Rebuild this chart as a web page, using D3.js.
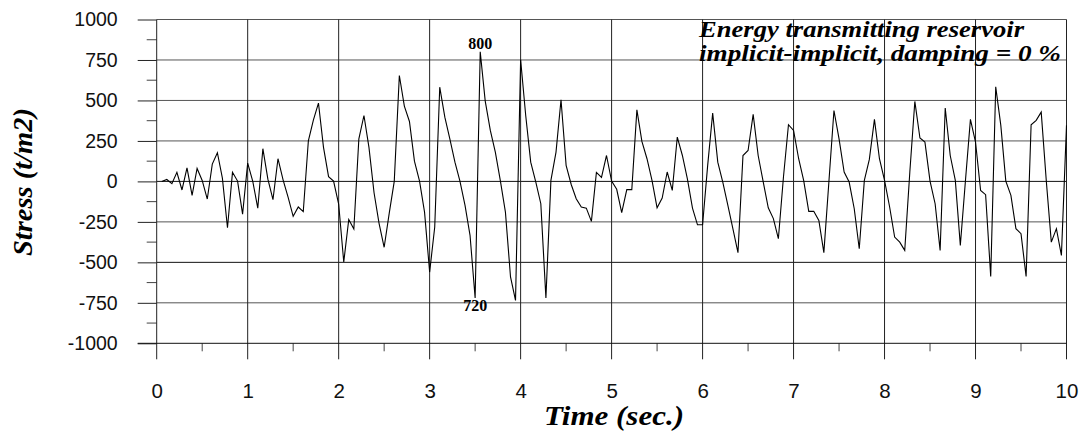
<!DOCTYPE html>
<html>
<head>
<meta charset="utf-8">
<script src="https://cdn.jsdelivr.net/npm/d3@7"></script>
<style>
html,body{margin:0;padding:0;background:#fff;}
svg{display:block;}
</style>
</head>
<body>
<svg id="chart" width="1089" height="435"></svg>
<script>
// ---- data ----
const times = [
0.056,0.111,0.167,0.222,0.278,0.333,0.389,0.444,0.5,0.556,0.611,0.667,0.722,0.778,0.833,0.889,0.944,1,
1.056,1.111,1.167,1.222,1.278,1.333,1.389,1.444,1.5,1.556,1.611,1.667,1.722,1.778,1.833,1.889,1.944,2,
2.056,2.111,2.167,2.222,2.278,2.333,2.389,2.444,2.5,2.556,2.611,2.667,2.722,2.778,2.833,2.889,2.944,3,
3.056,3.111,3.167,3.222,3.278,3.333,3.389,3.444,3.5,3.556,3.611,3.667,3.722,3.778,3.833,3.889,3.944,4,
4.056,4.111,4.167,4.222,4.278,4.333,4.389,4.444,4.5,4.556,4.611,4.667,4.722,4.778,4.833,4.889,4.944,5,
5.056,5.111,5.167,5.222,5.278,5.333,5.389,5.444,5.5,5.556,5.611,5.667,5.722,5.778,5.833,5.889,5.944,6,
6.056,6.111,6.167,6.222,6.278,6.333,6.389,6.444,6.5,6.556,6.611,6.667,6.722,6.778,6.833,6.889,6.944,7,
7.056,7.111,7.167,7.222,7.278,7.333,7.389,7.444,7.5,7.556,7.611,7.667,7.722,7.778,7.833,7.889,7.944,8,
8.056,8.111,8.167,8.222,8.278,8.333,8.389,8.444,8.5,8.556,8.611,8.667,8.722,8.778,8.833,8.889,8.944,9,
9.056,9.111,9.167,9.222,9.278,9.333,9.389,9.444,9.5,9.556,9.611,9.667,9.722,9.778,9.833,9.889,9.944,10
];
const stress = [
0,12,-14,56,-53,84,-86,80,6,-109,107,177,20,-286,56,2,-202,113,0,-165,202,14,-113,140,10,-97,-216,-158,-187,251,379,484,212,29,2,-140,-498,-235,-294,263,407,210,-70,-259,-407,-196,
0,654,465,370,125,2,-190,-560,-282,582,397,263,119,2,-148,-333,-720,800,496,315,181,2,-190,-590,-735,751,407,119,-4,-138,-720,6,181,504,99,-19,-107,-158,-165,-247,56,25,160,2,-49,
-193,-51,-51,442,247,140,6,-163,-103,58,-56,274,160,16,-165,-268,-268,99,422,119,-4,-148,-292,-440,160,191,414,160,-4,-163,-230,-354,27,350,315,140,6,-185,-185,-241,-440,2,438,263,58,
-4,-169,-416,6,136,383,140,6,-158,-344,-375,-426,58,494,268,243,2,-138,-426,453,160,6,-395,2,383,243,-56,-82,-587,584,346,2,-86,-292,-323,-587,350,377,428,2,-375,-292,-457,346
];
const yTicks = [-1000,-750,-500,-250,0,250,500,750,1000];
const xTicks = [0,1,2,3,4,5,6,7,8,9,10];
const peakLabels = [{t:3.556, v:800, text:"800", pos:"above"}, {t:3.5, v:-720, text:"720", pos:"below"}];
const annotationLines = ["Energy transmitting reservoir", "implicit-implicit, damping = 0 %"];
const xTitle = "Time (sec.)";
const yTitle = "Stress (t/m2)";

// ---- layout ----
const svg = d3.select("#chart");
const x = d3.scaleLinear().domain([0,10]).range([156.7,1066.5]);
const y = d3.scaleLinear().domain([-1000,1000]).range([343.3,19.5]);
const serif = "'Liberation Serif','Times New Roman',serif";
const sans = "'Liberation Sans',Arial,sans-serif";

// horizontal gridlines
svg.append("g").selectAll("line").data(yTicks.filter(d=>d>-1000)).join("line")
  .attr("x1", x(0)).attr("x2", x(10))
  .attr("y1", d=>y(d)).attr("y2", d=>y(d))
  .attr("stroke", d => (d===0||d===-500)?"#111":"#555").attr("stroke-width",1);

// vertical gridlines (extending below as ticks)
svg.append("g").selectAll("line").data(xTicks.filter(d=>d>0)).join("line")
  .attr("x1", d=>x(d)).attr("x2", d=>x(d))
  .attr("y1", y(1000)).attr("y2", y(-1000)+16)
  .attr("stroke", "#222").attr("stroke-width",1);

// y axis
const yAxis = d3.axisLeft(y).tickValues(yTicks).tickSize(19).tickPadding(20).tickFormat(d => String(d));
const gy = svg.append("g").attr("transform", `translate(${x(0)},0)`).call(yAxis);
gy.select(".domain").remove();
gy.selectAll(".tick line").attr("stroke","#222");
gy.selectAll(".tick text").attr("font-family", sans).attr("font-size", 19.5).attr("fill","#111");
// y minor ticks
const yMinor = d3.range(0,8).map(i => yTicks[i]+125);
svg.append("g").selectAll("line").data(yMinor).join("line")
  .attr("x1", x(0)-10).attr("x2", x(0)).attr("y1", d=>y(d)).attr("y2", d=>y(d))
  .attr("stroke","#444");
// y axis line
svg.append("line").attr("x1",x(0)).attr("x2",x(0)).attr("y1",y(1000)).attr("y2",y(-1000)+16).attr("stroke","#222");

// x axis
const xAxis = d3.axisBottom(x).tickValues(xTicks).tickSize(0).tickPadding(40).tickFormat(d => String(d));
const gx = svg.append("g").attr("transform", `translate(0,${y(-1000)})`).call(xAxis);
gx.select(".domain").remove();
gx.selectAll(".tick text").attr("font-family", sans).attr("font-size", 20.5).attr("fill","#111");
// x minor ticks
svg.append("g").selectAll("line").data(xTicks.slice(0,10).map(d=>d+0.5)).join("line")
  .attr("x1", d=>x(d)).attr("x2", d=>x(d)).attr("y1", y(-1000)).attr("y2", y(-1000)+8)
  .attr("stroke","#444");
// bottom axis line
svg.append("line").attr("x1",x(0)-19).attr("x2",x(10)).attr("y1",y(-1000)).attr("y2",y(-1000)).attr("stroke","#111");

// data line
const line = d3.line().x((d,i)=>x(times[i])).y(d=>y(d));
svg.append("path").datum(stress).attr("d", line)
  .attr("fill","none").attr("stroke","#000").attr("stroke-width",1.1).attr("stroke-linejoin","miter");

// peak labels
svg.append("g").selectAll("text").data(peakLabels).join("text")
  .attr("x", d=>x(d.t)).attr("y", d=> d.pos==="above" ? y(d.v)-3 : y(d.v)+13)
  .attr("text-anchor","middle").attr("font-family", serif).attr("font-weight","bold")
  .attr("font-size", 16).text(d=>d.text);

// annotation
const annLen = [325, 362];
svg.append("g").selectAll("text").data(annotationLines).join("text")
  .attr("x", 699).attr("y", (d,i)=> 37 + i*24)
  .attr("font-family", serif).attr("font-weight","bold").attr("font-style","italic")
  .attr("font-size", 24)
  .attr("textLength", (d,i)=>annLen[i]).attr("lengthAdjust","spacingAndGlyphs")
  .text(d=>d);

// axis titles
svg.append("text").attr("x", 614).attr("y", 425).attr("text-anchor","middle")
  .attr("font-family", serif).attr("font-weight","bold").attr("font-style","italic")
  .attr("font-size", 27).attr("textLength", 140).attr("lengthAdjust","spacingAndGlyphs").text(xTitle);
svg.append("text").attr("transform","translate(32,182) rotate(-90)").attr("text-anchor","middle")
  .attr("font-family", serif).attr("font-weight","bold").attr("font-style","italic")
  .attr("font-size", 27).attr("textLength", 148).attr("lengthAdjust","spacingAndGlyphs").text(yTitle);
</script>
</body>
</html>
